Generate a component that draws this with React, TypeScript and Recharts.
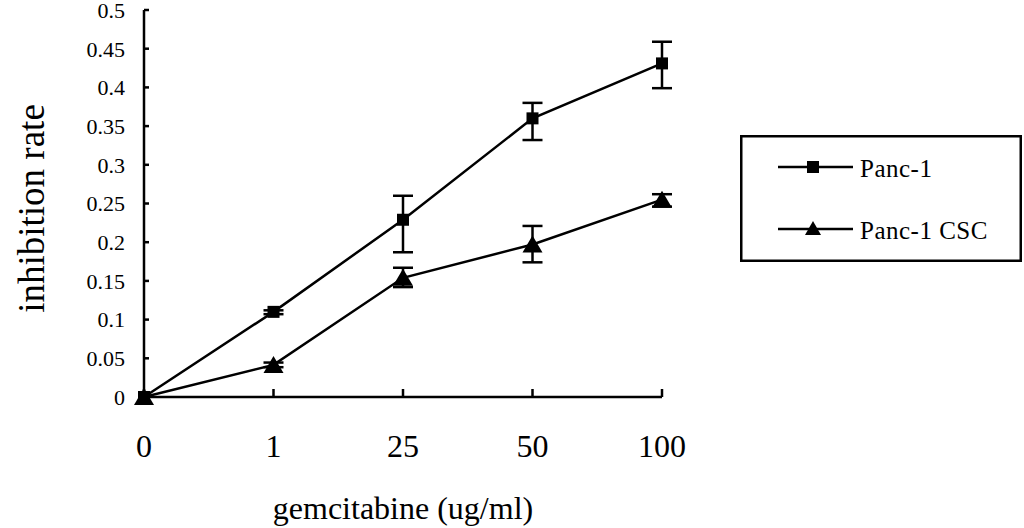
import { ErrorBar, Label, Legend, Line, LineChart, XAxis, YAxis } from "recharts";

const doses = ["0", "1", "25", "50", "100"];
const panc1 = [0, 0.11, 0.229, 0.36, 0.431];
const panc1ErrLow = [null, 0.003, 0.042, 0.028, 0.032];
const panc1ErrHigh = [null, 0.002, 0.031, 0.02, 0.028];
const panc1Csc = [0, 0.0415, 0.154, 0.197, 0.255];
const cscErrLow = [null, 0.003, 0.012, 0.023, 0.009];
const cscErrHigh = [null, 0.003, 0.013, 0.024, 0.007];
const yTicks = [0, 0.05, 0.1, 0.15, 0.2, 0.25, 0.3, 0.35, 0.4, 0.45, 0.5];

const data = doses.map((dose, i) => ({
  dose,
  panc1: panc1[i],
  panc1Err: panc1ErrLow[i] == null ? null : [panc1ErrLow[i], panc1ErrHigh[i]],
  csc: panc1Csc[i],
  cscErr: cscErrLow[i] == null ? null : [cscErrLow[i], cscErrHigh[i]],
}));

const serif = "'Liberation Serif', 'Times New Roman', serif";

function SquareDot(props: any) {
  const { cx, cy, index } = props;
  if (cx == null || cy == null) return null;
  return <rect key={`sq-${index}`} x={cx - 6} y={cy - 6} width={12} height={12} fill="#000" />;
}

function TriangleDot(props: any) {
  const { cx, cy, index } = props;
  if (cx == null || cy == null) return null;
  return (
    <polygon
      key={`tri-${index}`}
      points={`${cx},${cy - 9} ${cx + 10},${cy + 8} ${cx - 10},${cy + 8}`}
      fill="#000"
    />
  );
}

function LegendBox({ payload }: any) {
  const items = payload ?? [];
  return (
    <svg width={282} height={127}>
      <rect x={1.25} y={1.25} width={279.5} height={124.5} fill="#fff" stroke="#000" strokeWidth={2.5} />
      {items.map((item: any, i: number) => {
        const cy = 32 + i * 62;
        return (
          <g key={item.value}>
            <line x1={38} x2={113} y1={cy} y2={cy} stroke="#000" strokeWidth={2.5} />
            {item.dataKey === "panc1" ? (
              <rect x={67} y={cy - 6} width={12} height={12} fill="#000" />
            ) : (
              <polygon points={`73,${cy - 8} 81,${cy + 6} 65,${cy + 6}`} fill="#000" />
            )}
            <text x={120} y={cy + 10} fontFamily={serif} fontSize={25} letterSpacing={0.5} fill="#000">
              {item.value}
            </text>
          </g>
        );
      })}
    </svg>
  );
}

export default function App() {
  return (
    <div style={{ position: "absolute", left: 0, top: 0, background: "#fff" }}>
      <LineChart width={1024} height={528} data={data} margin={{ top: 10, right: 362, left: 0, bottom: 0 }}>
        <XAxis
          dataKey="dose"
          height={131}
          stroke="#000"
          strokeWidth={2.5}
          tickSize={-8}
          tickMargin={45}
          tick={{ fontSize: 32, fontFamily: serif, fill: "#000" }}
        >
          <Label
            value="gemcitabine (ug/ml)"
            position="insideBottom"
            offset={9}
            style={{ fontSize: 32, fontFamily: serif, fill: "#000" }}
          />
        </XAxis>
        <YAxis
          width={144}
          domain={[0, 0.5]}
          ticks={yTicks}
          interval={0}
          stroke="#000"
          strokeWidth={2.5}
          tickSize={-5}
          tickMargin={24}
          tickFormatter={(v) => String(v)}
          tick={{ fontSize: 22, fontFamily: serif, fill: "#000" }}
        >
          <Label
            content={(props: any) => {
              const vb = props.viewBox ?? { x: 0, y: 10, height: 387 };
              const lx = vb.x + 44;
              const ly = vb.y + vb.height / 2 + 5;
              return (
                <text
                  x={lx}
                  y={ly}
                  transform={`rotate(-90 ${lx} ${ly})`}
                  textAnchor="middle"
                  fontSize={37}
                  fontFamily={serif}
                  fill="#000"
                >
                  inhibition rate
                </text>
              );
            }}
          />
        </YAxis>
        <Legend
          layout="horizontal"
          verticalAlign="middle"
          align="center"
          content={LegendBox}
          wrapperStyle={{ left: 740, top: 135, right: "auto", bottom: "auto", width: 282, height: 127 }}
        />
        <Line
          name="Panc-1"
          dataKey="panc1"
          stroke="#000"
          strokeWidth={2.5}
          dot={SquareDot}
          activeDot={false}
          isAnimationActive={false}
        >
          <ErrorBar dataKey="panc1Err" width={10} stroke="#000" strokeWidth={2.5} direction="y" isAnimationActive={false} />
        </Line>
        <Line
          name="Panc-1 CSC"
          dataKey="csc"
          stroke="#000"
          strokeWidth={2.5}
          dot={TriangleDot}
          activeDot={false}
          isAnimationActive={false}
        >
          <ErrorBar dataKey="cscErr" width={10} stroke="#000" strokeWidth={2.5} direction="y" isAnimationActive={false} />
        </Line>
      </LineChart>
    </div>
  );
}
